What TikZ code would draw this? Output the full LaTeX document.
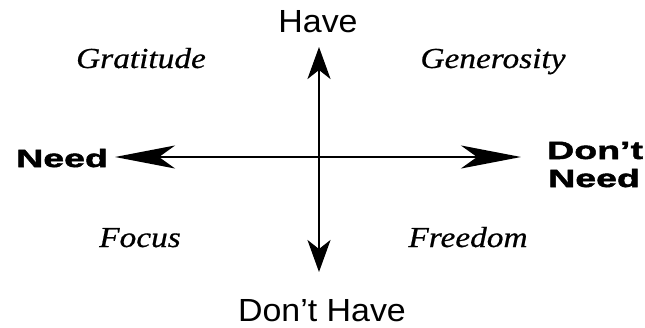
\documentclass[tikz,border=0pt]{standalone}
\usepackage{fontspec}
\setmainfont{Latin Modern Roman}
\newfontfamily\axisfont[FakeStretch=1.06]{Liberation Sans}
\newfontfamily\heavyfont[FakeBold=2,FakeStretch=1.5]{Liberation Sans Bold}
\newfontfamily\quadfont[FakeStretch=1.15,FakeBold=0.6]{Liberation Serif Italic}
\usetikzlibrary{arrows.meta}
\begin{document}
\begin{tikzpicture}[x=1pt,y=1pt,
  axislabel/.style={font=\axisfont\fontsize{32}{34}\selectfont, inner sep=0pt},
  heavylabel/.style={font=\heavyfont\fontsize{25}{28}\selectfont, inner sep=0pt, align=left},
  quadlabel/.style={font=\quadfont\fontsize{29}{32}\selectfont, inner sep=0pt},
  varr/.style={line width=2.7pt, -{Stealth[length=32pt,width=23pt,inset=9pt]}},
  harr/.style={line width=2.6pt, -{Stealth[length=60pt,width=23pt,inset=16pt]}}]
\useasboundingbox (0,0) rectangle (645,-327);
\coordinate (c) at (319,-157);
\coordinate (top) at (319,-47);
\coordinate (bot) at (319,-272);
\coordinate (lft) at (115,-157);
\coordinate (rgt) at (521,-157);
\draw[varr] (c) -- (top);
\draw[varr] (c) -- (bot);
\draw[harr] (c) -- (lft);
\draw[harr] (c) -- (rgt);
\node[axislabel, anchor=base] (have) at (318,-32) {Have};
\node[axislabel, anchor=base] (donthave) at (322,-321) {Don’t Have};
\node[heavylabel, anchor=base west] (need) at (16,-167) {Need};
\node[heavylabel, anchor=base west] (dontneed1) at (547,-159) {Don’t};
\node[heavylabel, anchor=base west] (dontneed2) at (548,-187) {Need};
\node[quadlabel, anchor=base] (grat) at (141,-68) {Gratitude};
\node[quadlabel, anchor=base] (gen) at (493,-68) {Generosity};
\node[quadlabel, anchor=base] (focus) at (140,-247) {Focus};
\node[quadlabel, anchor=base] (free) at (468,-247) {Freedom};
\end{tikzpicture}
\end{document}
